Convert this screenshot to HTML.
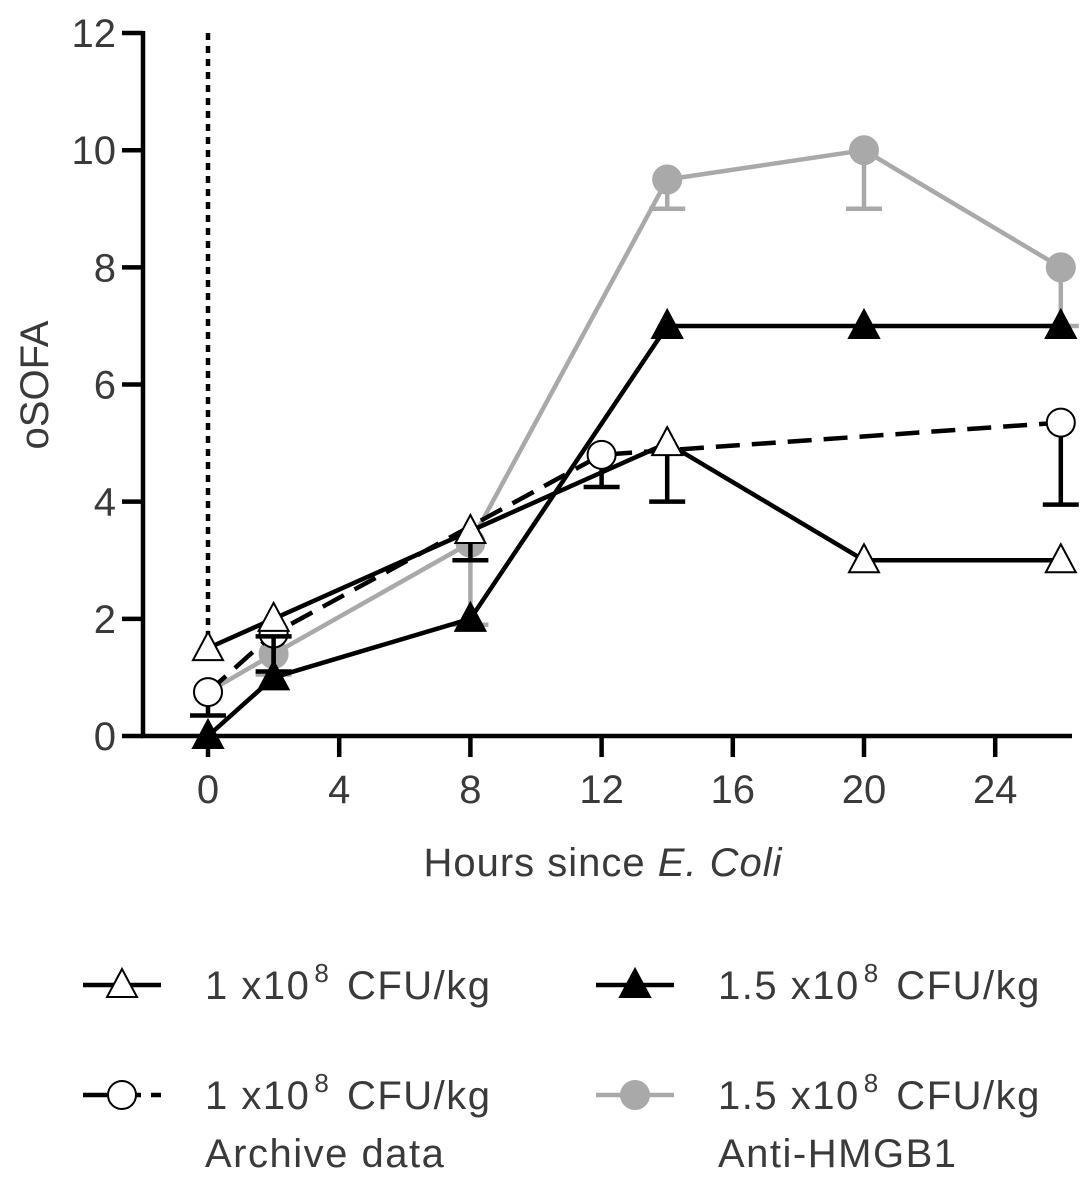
<!DOCTYPE html>
<html><head><meta charset="utf-8"><style>
body{margin:0;background:#fff}
svg text{font-family:"Liberation Sans",sans-serif;fill:#3a3a3a}
</style></head><body>
<svg id="c" width="1087" height="1181" xmlns="http://www.w3.org/2000/svg"></svg>
<script>
const xTicks=[0,4,8,12,16,20,24];
const yTicks=[0,2,4,6,8,10,12];
const triX=[0,2,8,14,20,26];
const triY=[1.5,2,3.5,5,3,3];
const triErrLo=[null,null,3,4,null,null];
const ftriX=[0,2,8,14,20,26];
const ftriY=[0,1,2,7,7,7];
const ftriErrHi=[null,1.7,null,null,null,null];
const circX=[0,2,12,26];
const circY=[0.75,1.75,4.8,5.35];
const circErrLo=[0.35,1.1,4.25,3.95];
const grayX=[0,2,8,14,20,26];
const grayY=[0.75,1.4,3.3,9.5,10,8];
const grayErrLo=[null,1.05,1.9,9,9,7];
const NS='http://www.w3.org/2000/svg';
const svg=document.getElementById('c');
const X=v=>208+v*32.8, Y=v=>736-v*58.58;
const SW=4.5;
function el(t,a,p){const e=document.createElementNS(NS,t);for(const k in a)e.setAttribute(k,a[k]);(p||svg).appendChild(e);return e;}
let g=el('g',{});

el('line',{x1:143,y1:Y(12)-2,x2:143,y2:Y(0)+2,stroke:'#000','stroke-width':SW},g);
yTicks.forEach(v=>{el('line',{x1:122,x2:143,y1:Y(v),y2:Y(v),stroke:'#000','stroke-width':SW},g);
 const t=el('text',{x:116,y:Y(v)+14,'text-anchor':'end','font-size':40},g);t.textContent=v;});
g=el('g',{});

el('line',{x1:141,y1:736,x2:1072,y2:736,stroke:'#000','stroke-width':SW},g);
xTicks.forEach(v=>{el('line',{x1:X(v),x2:X(v),y1:736,y2:757,stroke:'#000','stroke-width':SW},g);
 const t=el('text',{x:X(v),y:803,'text-anchor':'middle','font-size':40},g);t.textContent=v;});
let t=el('text',{x:48,y:385,'text-anchor':'middle','font-size':40,transform:'rotate(-90 48 385)'});
t.textContent='oSOFA';
t=el('text',{x:603,y:876,'text-anchor':'middle','font-size':40,'letter-spacing':1});

t.innerHTML='Hours since <tspan font-style="italic">E. Coli</tspan>';
let vl=el('line',{x1:X(0),x2:X(0),y1:Y(12),y2:Y(1.6),stroke:'#000','stroke-width':4.5,'stroke-dasharray':'7 6'});

function err(x,y0,y1,col,p){el('line',{x1:X(x),x2:X(x),y1:Y(y0),y2:Y(y1),stroke:col,'stroke-width':SW},p);
 el('line',{x1:X(x)-18,x2:X(x)+18,y1:Y(y1),y2:Y(y1),stroke:col,'stroke-width':SW},p);}
function tri(cx,cy,fill,p){return el('polygon',{points:`${cx},${cy-16} ${cx-15},${cy+12} ${cx+15},${cy+12}`,fill:fill,stroke:'#000','stroke-width':2},p);}
function marker(x,y,type,parent){
 if(type[0]==='t')return tri(X(x),Y(y),type==='tf'?'#000':'#fff',parent);
 if(type==='c')return el('circle',{cx:X(x),cy:Y(y),r:14,fill:'#fff',stroke:'#000','stroke-width':2},parent);
 return el('circle',{cx:X(x),cy:Y(y),r:14,fill:'#a9a9a9',stroke:'#a9a9a9','stroke-width':2},parent);}
function series(name,xs,ys,col,dash,type,errs){
 const s=el('g',{});
 errs.forEach((e,i)=>{if(e!=null)err(xs[i],ys[i],e,col,s);});
 const p=el('polyline',{points:xs.map((x,i)=>X(x)+','+Y(ys[i])).join(' '),fill:'none',stroke:col,'stroke-width':SW},s);
 if(dash)p.setAttribute('stroke-dasharray','24 12');
 xs.forEach((x,i)=>{const m=marker(x,ys[i],type,s);});}
series('gray-series',grayX,grayY,'#a9a9a9',false,'g',grayErrLo);
series('open-circle-series',circX,circY,'#000',true,'c',circErrLo);
series('filled-triangle-series',ftriX,ftriY,'#000',false,'tf',ftriErrHi);
series('open-triangle-series',triX,triY,'#000',false,'to',triErrLo);
function leg(x,y,type,col,dash,l1,l2,name){
 const lg=el('g',{});
 const l=el('line',{x1:x,x2:x+78,y1:y,y2:y,stroke:col,'stroke-width':SW},lg);if(dash)l.setAttribute('stroke-dasharray','24 10');
 const cx=x+39;
 if(type[0]==='t')tri(cx,y,type==='tf'?'#000':'#fff',lg);
 else el('circle',{cx:cx,cy:y,r:14,fill:type==='c'?'#fff':'#a9a9a9',stroke:type==='c'?'#000':'#a9a9a9','stroke-width':2},lg);
 const tt=el('text',{x:x+122,y:y+14,'font-size':40,'letter-spacing':1.5},lg);tt.innerHTML=l1+' x10<tspan dx="4" dy="-17" font-size="26">8</tspan><tspan dx="4" dy="17"> CFU/kg</tspan>';
 if(l2){const t2=el('text',{x:x+122,y:y+72,'font-size':40,'letter-spacing':1.5},lg);t2.textContent=l2;}}
leg(83,985,'to','#000',false,'1','','legend-open-triangle');
leg(596,985,'tf','#000',false,'1.5','','legend-filled-triangle');
leg(83,1095,'c','#000',true,'1','Archive data','legend-open-circle');
leg(596,1095,'g','#a9a9a9',false,'1.5','Anti-HMGB1','legend-gray');
</script>
</body></html>
